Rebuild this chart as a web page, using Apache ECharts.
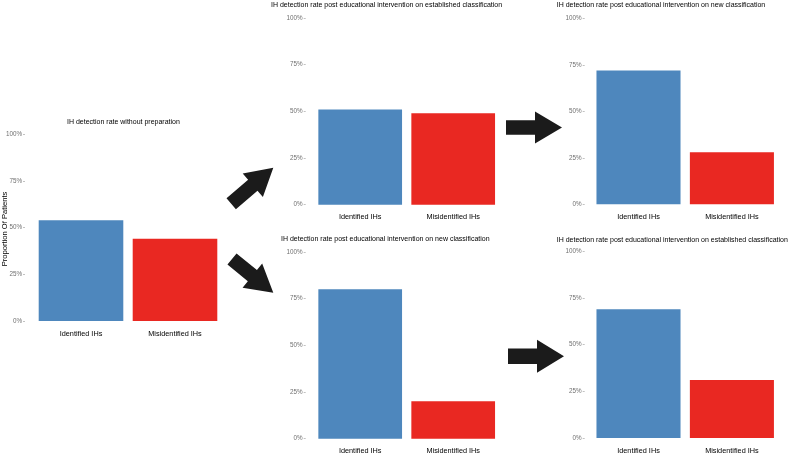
<!DOCTYPE html>
<html>
<head>
<meta charset="utf-8">
<script src="https://cdn.jsdelivr.net/npm/echarts@6/dist/echarts.min.js"></script>
<style>
html,body{margin:0;padding:0;background:#fff;}
#chart{width:790px;height:456px;}
</style>
</head>
<body>
<div id="chart"></div>
<script>
// ---- data ----
const categories = ['Identified IHs', 'Misidentified IHs'];
const yTickValues = [0, 25, 50, 75, 100];
const yAxisTitle = 'Proportion Of Patients';
const titleNoPrep = 'IH detection rate without preparation';
const titleEstablished = 'IH detection rate post educational intervention on established classification';
const titleNew = 'IH detection rate post educational intervention on new classification';
const noPreparation = [54, 44];
const topEstablished = [51, 49];
const topNew = [72, 28];
const bottomNew = [80, 20];
const bottomEstablished = [69, 31];

// ---- styling / layout ----
const barColors = ['#4e87bd', '#e92822'];
const FONT = '"Liberation Sans", Arial, sans-serif';

const panels = [
  {title: titleNoPrep, values: noPreparation, grid: {left: 34, top: 134.3, width: 188, height: 186.7}, yOffset: 9, titleLeft: 67, titleTop: 118.3},
  {title: titleEstablished, values: topEstablished, grid: {left: 313.7, top: 18, width: 186, height: 186.7}, yOffset: 8, titleLeft: 271, titleTop: 1.2},
  {title: titleNew, values: topNew, grid: {left: 591.8, top: 18.3, width: 186.8, height: 186}, yOffset: 7.1, titleLeft: 556.7, titleTop: 1.2},
  {title: titleNew, values: bottomNew, grid: {left: 313.7, top: 252, width: 186, height: 186.7}, yOffset: 8, titleLeft: 281, titleTop: 235.8},
  {title: titleEstablished, values: bottomEstablished, grid: {left: 591.8, top: 251.3, width: 186.8, height: 186.7}, yOffset: 7.1, titleLeft: 556.7, titleTop: 236.3}
];

function arrow(tail, tip, sw, hw, hl) {
  const dx = tip[0] - tail[0], dy = tip[1] - tail[1];
  const len = Math.sqrt(dx * dx + dy * dy);
  const ux = dx / len, uy = dy / len;
  const nx = -uy, ny = ux;
  const bx = tip[0] - ux * hl, by = tip[1] - uy * hl;
  return {
    type: 'polygon',
    silent: true,
    shape: {points: [
      [tail[0] + nx * sw, tail[1] + ny * sw],
      [bx + nx * sw, by + ny * sw],
      [bx + nx * hw, by + ny * hw],
      [tip[0], tip[1]],
      [bx - nx * hw, by - ny * hw],
      [bx - nx * sw, by - ny * sw],
      [tail[0] - nx * sw, tail[1] - ny * sw]
    ]},
    style: {fill: '#1b1b1b'}
  };
}

const option = {
  animation: false,
  backgroundColor: '#ffffff',
  textStyle: {fontFamily: FONT},
  title: panels.map(p => ({
    text: p.title,
    left: p.titleLeft,
    top: p.titleTop,
    padding: 0,
    textStyle: {fontSize: 7, fontWeight: 'normal', color: '#000', fontFamily: FONT}
  })),
  grid: panels.map(p => Object.assign({containLabel: false, outerBoundsMode: 'none'}, p.grid)),
  xAxis: panels.map((p, i) => ({
    type: 'category',
    gridIndex: i,
    data: categories,
    axisLine: {show: false},
    axisTick: {show: false},
    splitLine: {show: false},
    axisLabel: {fontSize: 7.3, color: '#000', margin: 9, fontFamily: FONT}
  })),
  yAxis: panels.map((p, i) => ({
    type: 'value',
    gridIndex: i,
    min: yTickValues[0],
    max: yTickValues[yTickValues.length - 1],
    interval: yTickValues[1] - yTickValues[0],
    offset: p.yOffset,
    axisLine: {show: false},
    axisTick: {show: true, length: 2, lineStyle: {color: '#999', width: 0.6}},
    splitLine: {show: false},
    axisLabel: {fontSize: 6.3, color: '#707070', margin: 3, formatter: '{value}%', fontFamily: FONT}
  })),
  series: panels.map((p, i) => ({
    type: 'bar',
    xAxisIndex: i,
    yAxisIndex: i,
    barWidth: '90%',
    data: p.values.map((v, j) => ({value: v, itemStyle: {color: barColors[j]}}))
  })),
  graphic: [
    {
      type: 'text',
      silent: true,
      x: 4.7,
      y: 229,
      rotation: Math.PI / 2,
      style: {text: yAxisTitle, fontSize: 7.6, fill: '#000', fontFamily: FONT, align: 'center', verticalAlign: 'middle'}
    },
    arrow([231.2, 203.8], [273.3, 167.7], 7.2, 15.5, 27),
    arrow([232, 259], [273.3, 292.7], 7.2, 15.5, 27),
    arrow([506, 127.5], [562, 127.5], 7.3, 16, 27),
    arrow([508, 356.3], [564, 356.3], 7.8, 16.5, 27)
  ]
};

const chart = echarts.init(document.getElementById('chart'), null, {renderer: 'canvas'});
chart.setOption(option);
</script>
</body>
</html>
